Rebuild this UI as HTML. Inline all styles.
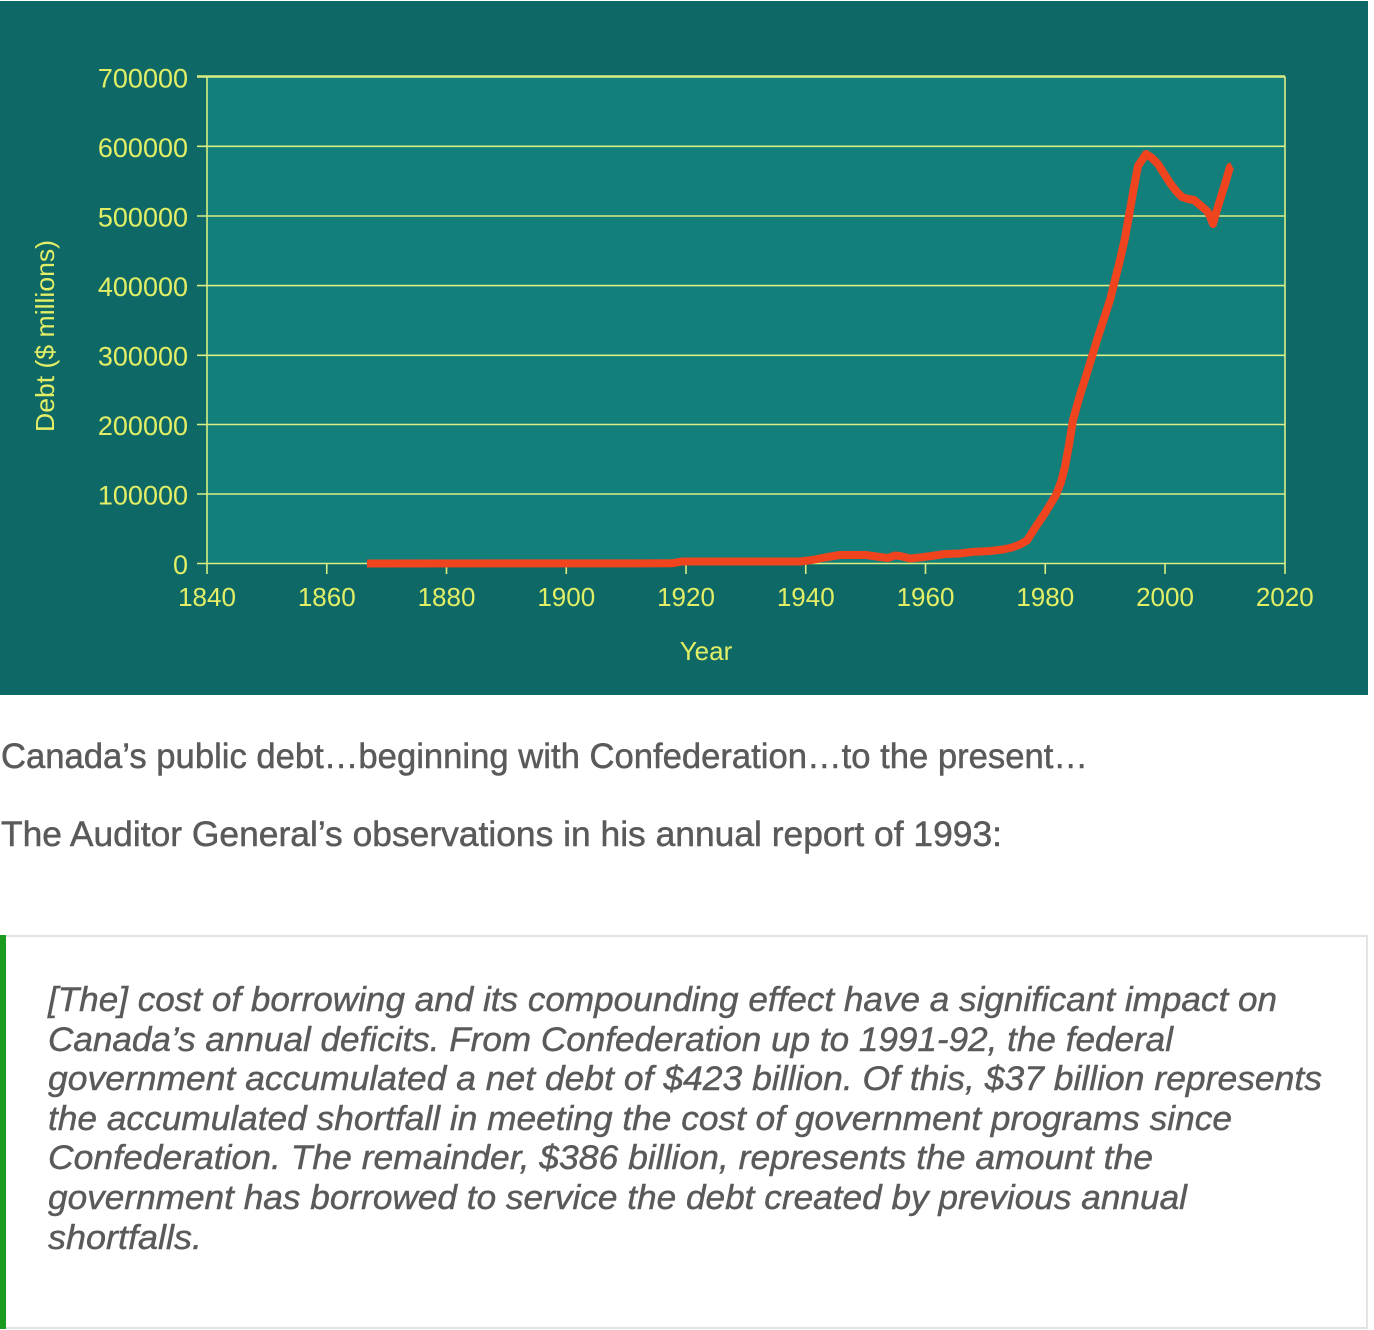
<!DOCTYPE html>
<html>
<head>
<meta charset="utf-8">
<style>
  html, body { margin: 0; padding: 0; background: #ffffff; }
  svg { display: block; }
</style>
</head>
<body>
<svg width="1374" height="1330" viewBox="0 0 1374 1330" xmlns="http://www.w3.org/2000/svg">
  <rect x="0" y="0" width="1374" height="1330" fill="#ffffff"/>
  <!-- chart background -->
  <rect x="0" y="1" width="1368" height="694" fill="#0e6966"/>
  <!-- plot area -->
  <rect x="207" y="76.5" width="1078" height="487" fill="#127f7b"/>

  <!-- gridlines -->
  <g stroke="#d9ee84" stroke-width="1.6" fill="none">
    <line x1="197" y1="146.3" x2="1285" y2="146.3"/>
    <line x1="197" y1="216" x2="1285" y2="216"/>
    <line x1="197" y1="285.6" x2="1285" y2="285.6"/>
    <line x1="197" y1="355.3" x2="1285" y2="355.3"/>
    <line x1="197" y1="424.5" x2="1285" y2="424.5"/>
    <line x1="197" y1="494" x2="1285" y2="494"/>
    <line x1="197" y1="563.5" x2="1285" y2="563.5"/>
    <line x1="197" y1="76.5" x2="1285" y2="76.5" stroke-width="2.6"/>
    <!-- frame -->
    <line x1="207" y1="76.5" x2="207" y2="574"/>
    <line x1="1285" y1="76.5" x2="1285" y2="574"/>
    <!-- x ticks -->
    <line x1="326.75" y1="563.5" x2="326.75" y2="574"/>
    <line x1="446.5" y1="563.5" x2="446.5" y2="574"/>
    <line x1="566.25" y1="563.5" x2="566.25" y2="574"/>
    <line x1="686" y1="563.5" x2="686" y2="574"/>
    <line x1="805.75" y1="563.5" x2="805.75" y2="574"/>
    <line x1="925.5" y1="563.5" x2="925.5" y2="574"/>
    <line x1="1045.25" y1="563.5" x2="1045.25" y2="574"/>
    <line x1="1165" y1="563.5" x2="1165" y2="574"/>
  </g>

  <!-- y labels -->
  <g font-family="Liberation Sans, Arial, sans-serif" font-size="27" fill="#e2ee66" text-anchor="end">
    <text x="188" y="87.5">700000</text>
    <text x="188" y="157">600000</text>
    <text x="188" y="226.5">500000</text>
    <text x="188" y="296">400000</text>
    <text x="188" y="365.5">300000</text>
    <text x="188" y="435">200000</text>
    <text x="188" y="504.5">100000</text>
    <text x="188" y="574">0</text>
  </g>
  <!-- x labels -->
  <g font-family="Liberation Sans, Arial, sans-serif" font-size="26" fill="#e2ee66" text-anchor="middle">
    <text x="207" y="606">1840</text>
    <text x="326.75" y="606">1860</text>
    <text x="446.5" y="606">1880</text>
    <text x="566.25" y="606">1900</text>
    <text x="686" y="606">1920</text>
    <text x="805.75" y="606">1940</text>
    <text x="925.5" y="606">1960</text>
    <text x="1045.25" y="606">1980</text>
    <text x="1165" y="606">2000</text>
    <text x="1284.75" y="606">2020</text>
    <text x="706" y="660">Year</text>
  </g>
  <text transform="translate(54,336) rotate(-90)" x="0" y="0" font-family="Liberation Sans, Arial, sans-serif" font-size="26" fill="#e2ee66" text-anchor="middle" textLength="192" lengthAdjust="spacingAndGlyphs">Debt ($ millions)</text>

  <!-- data line -->
  <polyline fill="none" stroke="#f0441e" stroke-width="8" stroke-linejoin="round" stroke-linecap="butt"
    points="367,563.5 672,563.3 682,561.5 800,561.5 812,560 825,557.5 840,555 866,555 880,557 888,558 895,555.5 900,556 910,558.5 920,557.5 935,555.5 945,554 960,553.5 972,552 990,551 1003,549.5 1012,547.5 1020,544.5 1027,540.5 1035,528 1045,513 1056,495 1061,482 1065,466.7 1069,445 1073,420 1080,395 1087,373 1097,340 1110,300 1120,260 1125,238 1130,210 1134,187 1138,166 1146,154 1152,158 1158,164 1163,172 1170,183 1176,191 1182,197 1188,199 1194,200 1200,205 1207,211 1210,216 1213,224 1216,213 1220,200 1225,184 1230,167 1232,166"/>

  <!-- body text -->
  <g font-family="Liberation Sans, Arial, sans-serif" font-size="35" fill="#5a5a5a" stroke="#5a5a5a" stroke-width="0.5">
    <text x="1" y="768" textLength="1087" lengthAdjust="spacingAndGlyphs">Canada’s public debt…beginning with Confederation…to the present…</text>
    <text x="1" y="846" textLength="1001" lengthAdjust="spacingAndGlyphs">The Auditor General’s observations in his annual report of 1993:</text>
  </g>

  <!-- quote box -->
  <rect x="1" y="936" width="1366" height="392" fill="#ffffff" stroke="#e4e4e4" stroke-width="2"/>
  <rect x="0" y="935" width="6" height="394" fill="#1a9a1f"/>
  <g font-family="Liberation Sans, Arial, sans-serif" font-size="34" font-style="italic" fill="#5a5a5a" stroke="#5a5a5a" stroke-width="0.45">
    <text x="48" y="1011" textLength="1229" lengthAdjust="spacingAndGlyphs">[The] cost of borrowing and its compounding effect have a significant impact on</text>
    <text x="48" y="1051" textLength="1125" lengthAdjust="spacingAndGlyphs">Canada’s annual deficits. From Confederation up to 1991-92, the federal</text>
    <text x="48" y="1090" textLength="1274" lengthAdjust="spacingAndGlyphs">government accumulated a net debt of $423 billion. Of this, $37 billion represents</text>
    <text x="48" y="1130" textLength="1184" lengthAdjust="spacingAndGlyphs">the accumulated shortfall in meeting the cost of government programs since</text>
    <text x="48" y="1169" textLength="1105" lengthAdjust="spacingAndGlyphs">Confederation. The remainder, $386 billion, represents the amount the</text>
    <text x="48" y="1209" textLength="1139" lengthAdjust="spacingAndGlyphs">government has borrowed to service the debt created by previous annual</text>
    <text x="48" y="1249" textLength="154" lengthAdjust="spacingAndGlyphs">shortfalls.</text>
  </g>
</svg>
</body>
</html>
